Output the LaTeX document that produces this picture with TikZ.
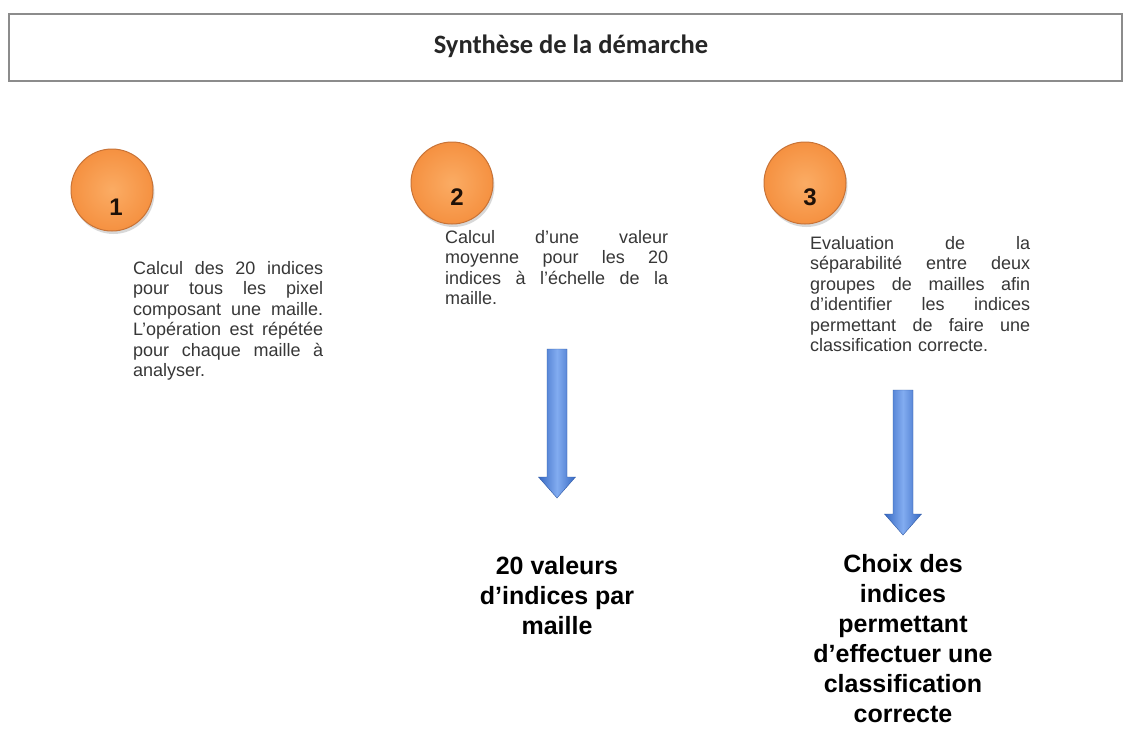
\documentclass[tikz,border=0pt]{standalone}
\usepackage{fontspec}
\setmainfont{Liberation Sans}
\newfontfamily\calfont{Carlito}
\usetikzlibrary{shadows}
\definecolor{orangeA}{RGB}{245,145,65}
\definecolor{orangeB}{RGB}{200,115,55}
\definecolor{orangeL}{RGB}{251,172,100}
\definecolor{arrowD}{RGB}{55,105,195}
\definecolor{arrowL}{RGB}{130,172,240}
\definecolor{bodygray}{RGB}{55,55,55}
\definecolor{boxgray}{RGB}{140,140,140}
\newcommand{\jline}[1]{{\spaceskip=0pt\xspaceskip=0pt\makebox[\hsize][s]{#1}}}
\begin{document}
\begin{tikzpicture}[x=1pt,y=-1pt,
  numcircle/.style={circle, minimum size=82pt, inner sep=0pt, draw=orangeB, line width=1pt,
    inner color=orangeL, outer color=orangeA,
    drop shadow={shadow xshift=1.5pt, shadow yshift=-3pt, opacity=0.3}},
  numtext/.style={font=\bfseries\fontsize{24}{24}\selectfont, text=black!85!orangeB, inner sep=0pt},
  bodytext/.style={anchor=north west, inner sep=0pt, align=left, text=bodygray,
    font=\fontsize{18}{20.5}\selectfont},
  resulttext/.style={anchor=north, inner sep=0pt, align=center, text=black,
    font=\bfseries\fontsize{25}{30}\selectfont},
  blockarrow/.style={draw=arrowD!85!black, line width=0.4pt, left color=arrowD, right color=arrowD, middle color=arrowL}
  ]
\useasboundingbox (0,0) rectangle (1124,728);
\fill[white] (0,0) rectangle (1124,728);

% title box
\node (titlebox) [draw=boxgray, line width=1.6pt, minimum width=1113pt, minimum height=67pt, inner sep=0pt, anchor=north west] at (8,13) {};
\node (title) [anchor=base, inner sep=0pt, text=black!85] at (571,53) {\calfont\bfseries\fontsize{26.5}{30}\selectfont Synthèse de la démarche};

% circles
\node (c1) [numcircle] at (112,190) {};
\node (n1) [numtext] at (116,207) {1};
\node (c2) [numcircle] at (452,183) {};
\node (n2) [numtext] at (457,197) {2};
\node (c3) [numcircle] at (805,183) {};
\node (n3) [numtext] at (810,197) {3};

% body texts
\node (t1) [bodytext, text width=190pt] at (133,261) {%
\jline{Calcul des 20 indices}\\
\jline{pour tous les pixel}\\
\jline{composant une maille.}\\
\jline{L’opération est répétée}\\
\jline{pour chaque maille à}\\
analyser.};

\node (t2) [bodytext, text width=223pt] at (445,230) {%
\jline{Calcul d’une valeur}\\
\jline{moyenne pour les 20}\\
\jline{indices à l’échelle de la}\\
maille.};

\node (t3) [bodytext, text width=220pt] at (810,236) {%
\jline{Evaluation de la}\\
\jline{séparabilité entre deux}\\
\jline{groupes de mailles afin}\\
\jline{d’identifier les indices}\\
\jline{permettant de faire une}\\
classification correcte.};

% arrows
\coordinate (a2top) at (557,349);
\coordinate (a2tip) at (557,498);
\coordinate (a3top) at (903,390);
\coordinate (a3tip) at (903,535);
\foreach \a in {a2,a3}{
  \path[blockarrow]
    ([xshift=-10pt]\a top) -- ([xshift=10pt]\a top) -- ([xshift=10pt,yshift=21pt]\a tip)
    -- ([xshift=18.5pt,yshift=21pt]\a tip) -- (\a tip) -- ([xshift=-18.5pt,yshift=21pt]\a tip)
    -- ([xshift=-10pt,yshift=21pt]\a tip) -- cycle;
}

% result texts
\node (r2) [resulttext] at (557,556) {20 valeurs\\d’indices par\\maille};
\node (r3) [resulttext] at (903,554) {Choix des\\indices\\permettant\\d’effectuer une\\classification\\correcte};
\end{tikzpicture}
\end{document}
